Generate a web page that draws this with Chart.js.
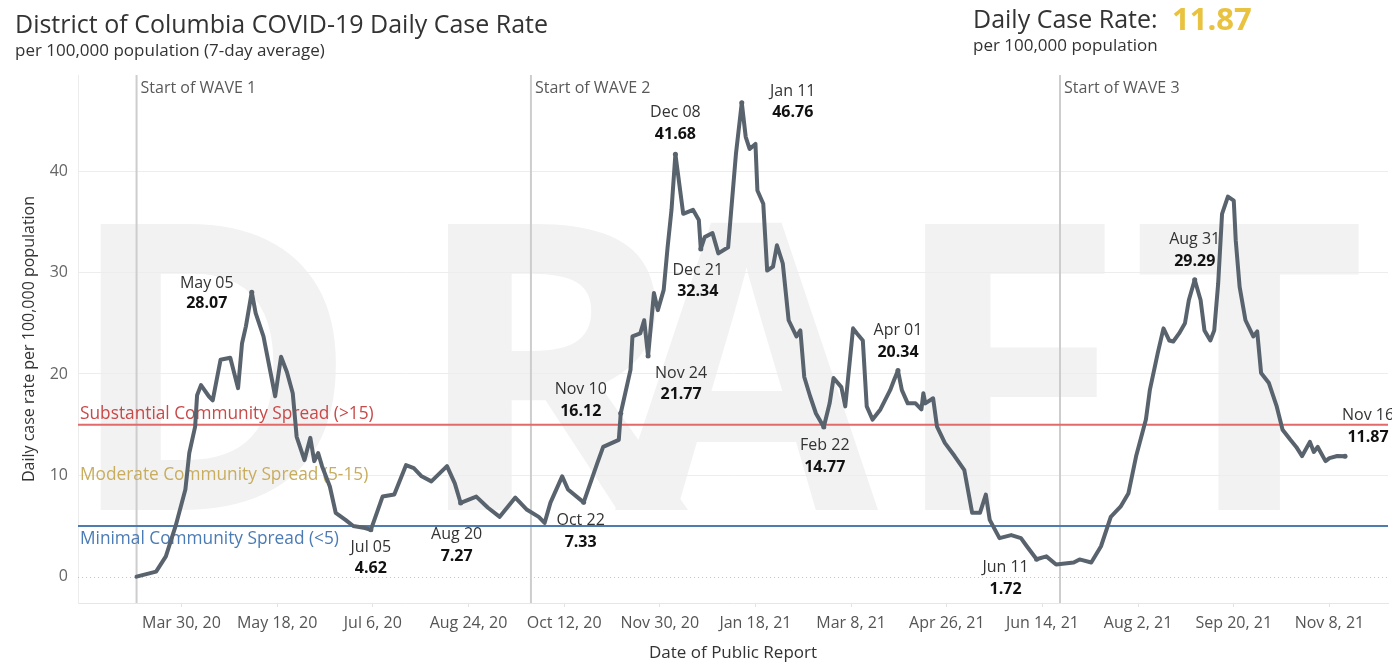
<!DOCTYPE html>
<html>
<head>
<meta charset="utf-8">
<title>District of Columbia COVID-19 Daily Case Rate</title>
<script src="https://cdn.jsdelivr.net/npm/chart.js@4.4.0/dist/chart.umd.min.js"></script>
<style>
  html, body { margin: 0; padding: 0; background: #fff; }
  #wrap { width: 1392px; height: 663px; position: relative; }
</style>
</head>
<body>
<div id="wrap"><canvas id="dcChart" width="1392" height="663"></canvas></div>
<script>
// 7-day average daily case rate per 100k
var reportDates = [
  '2020-03-07','2020-03-17','2020-03-22','2020-03-27','2020-04-01','2020-04-03','2020-04-06','2020-04-07',
  '2020-04-09','2020-04-13','2020-04-15','2020-04-19','2020-04-24','2020-04-28','2020-04-30','2020-05-02',
  '2020-05-05','2020-05-07','2020-05-11','2020-05-17','2020-05-20','2020-05-23','2020-05-26','2020-05-28',
  '2020-06-01','2020-06-04','2020-06-06','2020-06-08','2020-06-10','2020-06-14','2020-06-17','2020-06-22',
  '2020-06-26','2020-07-02','2020-07-05','2020-07-11','2020-07-17','2020-07-23','2020-07-27','2020-07-31',
  '2020-08-05','2020-08-13','2020-08-17','2020-08-20','2020-08-28','2020-09-03','2020-09-09','2020-09-17',
  '2020-09-23','2020-09-29','2020-10-02','2020-10-05','2020-10-11','2020-10-14','2020-10-22','2020-10-29',
  '2020-11-01','2020-11-09','2020-11-10','2020-11-15','2020-11-16','2020-11-20','2020-11-22','2020-11-24',
  '2020-11-27','2020-11-29','2020-12-02','2020-12-04','2020-12-06','2020-12-08','2020-12-12','2020-12-17',
  '2020-12-20','2020-12-21','2020-12-23','2020-12-27','2020-12-30','2021-01-04','2021-01-08','2021-01-11',
  '2021-01-13','2021-01-15','2021-01-18','2021-01-19','2021-01-22','2021-01-24','2021-01-27','2021-01-29',
  '2021-02-01','2021-02-04','2021-02-08','2021-02-10','2021-02-12','2021-02-15','2021-02-18','2021-02-22',
  '2021-02-25','2021-02-27','2021-03-03','2021-03-05','2021-03-09','2021-03-11','2021-03-14','2021-03-16',
  '2021-03-19','2021-03-23','2021-03-28','2021-03-30','2021-04-01','2021-04-03','2021-04-06','2021-04-10',
  '2021-04-13','2021-04-14','2021-04-15','2021-04-19','2021-04-21','2021-04-25','2021-04-30','2021-05-05',
  '2021-05-09','2021-05-13','2021-05-16','2021-05-18','2021-05-23','2021-05-29','2021-06-03','2021-06-06',
  '2021-06-11','2021-06-16','2021-06-21','2021-06-30','2021-07-03','2021-07-09','2021-07-14','2021-07-19',
  '2021-07-24','2021-07-28','2021-08-01','2021-08-06','2021-08-08','2021-08-12','2021-08-15','2021-08-18',
  '2021-08-20','2021-08-23','2021-08-26','2021-08-28','2021-08-31','2021-09-03','2021-09-05','2021-09-08',
  '2021-09-10','2021-09-12','2021-09-14','2021-09-17','2021-09-20','2021-09-21','2021-09-23','2021-09-26',
  '2021-09-30','2021-10-02','2021-10-04','2021-10-08','2021-10-12','2021-10-15','2021-10-19','2021-10-22',
  '2021-10-25','2021-10-29','2021-10-31','2021-11-02','2021-11-06','2021-11-08','2021-11-12','2021-11-16'
];
var caseRates = [
  0.0, 0.5, 2.0, 5.0, 8.6, 12.2, 14.8, 17.9,
  18.9, 17.8, 17.4, 21.4, 21.6, 18.6, 23.0, 24.7,
  28.07, 26.0, 23.7, 17.8, 21.7, 20.2, 18.1, 13.8,
  11.5, 13.7, 11.4, 12.2, 10.9, 8.9, 6.3, 5.6,
  5.0, 4.8, 4.62, 7.9, 8.1, 11.0, 10.7, 9.9,
  9.4, 10.9, 9.2, 7.27, 7.9, 6.8, 5.9, 7.8,
  6.6, 5.9, 5.3, 7.3, 9.9, 8.6, 7.33, 11.2,
  12.8, 13.5, 16.12, 20.4, 23.7, 24.0, 25.3, 21.77,
  28.0, 26.3, 28.3, 32.5, 36.2, 41.68, 35.8, 36.2,
  35.2, 32.34, 33.5, 33.9, 31.9, 32.5, 41.7, 46.76,
  43.4, 42.2, 42.7, 38.1, 36.8, 30.2, 30.6, 32.7,
  30.9, 25.3, 23.7, 24.3, 19.7, 17.8, 16.1, 14.77,
  17.1, 19.6, 18.7, 16.8, 24.5, 24.0, 23.3, 16.8,
  15.5, 16.5, 18.4, 19.4, 20.34, 18.4, 17.1, 17.1,
  16.5, 18.1, 17.1, 17.6, 14.8, 13.2, 11.9, 10.5,
  6.3, 6.3, 8.1, 5.6, 3.8, 4.1, 3.8, 3.0,
  1.72, 2.0, 1.2, 1.4, 1.7, 1.4, 3.0, 5.9,
  6.9, 8.2, 11.9, 15.5, 18.4, 22.0, 24.5, 23.3,
  23.2, 24.0, 25.0, 27.3, 29.29, 27.3, 24.3, 23.3,
  24.3, 28.9, 35.8, 37.5, 37.1, 33.2, 28.6, 25.3,
  23.7, 24.2, 20.1, 19.1, 16.8, 14.5, 13.5, 12.8,
  11.9, 13.3, 12.3, 12.8, 11.4, 11.7, 11.9, 11.87
];
var tickDates = ['2020-03-30','2020-05-18','2020-07-06','2020-08-24','2020-10-12','2020-11-30','2021-01-18',
                 '2021-03-08','2021-04-26','2021-06-14','2021-08-02','2021-09-20','2021-11-08'];
var yTicks = [0, 10, 20, 30, 40];

var waveDates = ['2020-03-07', '2020-09-25', '2021-06-23'];
var waveLabels = ['Start of WAVE 1', 'Start of WAVE 2', 'Start of WAVE 3'];

var spreadLevels = [15, 5];
var spreadLabels = ['Substantial Community Spread (>15)', 'Moderate Community Spread (5-15)', 'Minimal Community Spread (<5)'];

var calloutDates = ['2020-05-05','2020-07-05','2020-08-20','2020-10-22','2020-11-10','2020-11-24','2020-12-08',
                    '2020-12-21','2021-01-11','2021-02-22','2021-04-01','2021-06-11','2021-08-31','2021-11-16'];
var calloutNames = ['May 05','Jul 05','Aug 20','Oct 22','Nov 10','Nov 24','Dec 08',
                    'Dec 21','Jan 11','Feb 22','Apr 01','Jun 11','Aug 31','Nov 16'];
var calloutValues = [28.07, 4.62, 7.27, 7.33, 16.12, 21.77, 41.68, 32.34, 46.76, 14.77, 20.34, 1.72, 29.29, 11.87];

var latestRate = 11.87;

// where each callout text sits relative to its point: [dx, dy line1, dy line2]
var calloutOffsets = [[-45,-9,11],[0,18,39],[-4,31,53],[-3,18,40],[-40,-24,-2],[33,17,38],[0,-42,-20],
                      [-3,22,43],[51,-11,10],[1,18,40],[0,-40,-18],[-31,8,30],[0,-40,-18],[23,-41,-19]];

var FONT = '"Open Sans", "Noto Sans", sans-serif';
var DAY_MS = 86400000;
var baseMs = Date.UTC(2020, 2, 30);
var MONTHS = ['Jan','Feb','Mar','Apr','May','Jun','Jul','Aug','Sep','Oct','Nov','Dec'];

function dayOf(s) {
  var p = s.split('-');
  return Math.round((Date.UTC(+p[0], +p[1] - 1, +p[2]) - baseMs) / DAY_MS);
}
function tickLabel(v) {
  var d = new Date(baseMs + v * DAY_MS);
  return MONTHS[d.getUTCMonth()] + ' ' + d.getUTCDate() + ', ' + String(d.getUTCFullYear()).slice(2);
}

var points = reportDates.map(function (d, i) { return { x: dayOf(d), y: caseRates[i] }; });

var decor = {
  id: 'decor',
  beforeDraw: function (chart) {
    var ctx = chart.ctx;
    ctx.save();
    ctx.fillStyle = '#fff';
    ctx.fillRect(0, 0, chart.width, chart.height);

    // DRAFT watermark, each letter stretched to its box
    var letters = ['D', 'R', 'A', 'F', 'T'];
    var lefts = [96, 443, 615, 920, 1138];
    var widths = [242, 250, 268, 185, 222];
    ctx.fillStyle = '#f2f2f2';
    ctx.font = '700 400px ' + FONT;
    ctx.textBaseline = 'alphabetic';
    letters.forEach(function (ch, i) {
      var m = ctx.measureText(ch);
      var inkW = m.actualBoundingBoxLeft + m.actualBoundingBoxRight;
      ctx.save();
      ctx.translate(lefts[i], 510);
      ctx.scale(widths[i] / inkW, 288 / m.actualBoundingBoxAscent);
      ctx.fillText(ch, m.actualBoundingBoxLeft, 0);
      ctx.restore();
    });

    // header
    ctx.fillStyle = '#333';
    ctx.font = '400 25px ' + FONT;
    ctx.fillText('District of Columbia COVID-19 Daily Case Rate', 15, 33);
    ctx.font = '400 17px ' + FONT;
    ctx.fillText('per 100,000 population (7-day average)', 15, 56);
    ctx.font = '400 25px ' + FONT;
    ctx.fillText('Daily Case Rate:', 973, 28);
    ctx.font = '400 17px ' + FONT;
    ctx.fillText('per 100,000 population', 973, 51);
    ctx.fillStyle = '#e9c23f';
    ctx.font = '700 31px ' + FONT;
    ctx.fillText(latestRate.toFixed(2), 1172, 30);
    ctx.restore();
  },
  beforeDatasetsDraw: function (chart) {
    var ctx = chart.ctx, a = chart.chartArea;
    var xs = chart.scales.x, ys = chart.scales.y;
    ctx.save();

    // dotted zero line
    ctx.strokeStyle = '#c4c4c4';
    ctx.lineWidth = 1;
    ctx.setLineDash([1, 3]);
    ctx.beginPath();
    ctx.moveTo(a.left, Math.round(ys.getPixelForValue(0)) + 0.5);
    ctx.lineTo(a.right, Math.round(ys.getPixelForValue(0)) + 0.5);
    ctx.stroke();
    ctx.setLineDash([]);

    // wave starts
    ctx.font = '400 16px ' + FONT;
    ctx.textBaseline = 'middle';
    waveDates.forEach(function (d, i) {
      var x = xs.getPixelForValue(dayOf(d));
      ctx.strokeStyle = '#cdcdcd';
      ctx.lineWidth = 2;
      ctx.beginPath();
      ctx.moveTo(x, a.top);
      ctx.lineTo(x, a.bottom);
      ctx.stroke();
      ctx.fillStyle = '#595959';
      ctx.fillText(waveLabels[i], x + 4, a.top + 13);
    });

    // spread thresholds
    var yHi = ys.getPixelForValue(spreadLevels[0]);
    var yLo = ys.getPixelForValue(spreadLevels[1]);
    ctx.lineWidth = 2;
    ctx.strokeStyle = '#e26a6a';
    ctx.beginPath(); ctx.moveTo(a.left, yHi); ctx.lineTo(a.right, yHi); ctx.stroke();
    ctx.strokeStyle = '#4f7cae';
    ctx.beginPath(); ctx.moveTo(a.left, yLo); ctx.lineTo(a.right, yLo); ctx.stroke();

    ctx.font = '400 17.3px ' + FONT;
    ctx.fillStyle = '#c94848';
    ctx.fillText(spreadLabels[0], a.left + 2, yHi - 11);
    ctx.fillStyle = '#c8ad5e';
    ctx.fillText(spreadLabels[1], a.left + 2, (yHi + yLo) / 2);
    ctx.fillStyle = '#4b7bb5';
    ctx.fillText(spreadLabels[2], a.left + 2, yLo + 13);
    ctx.restore();
  },
  afterDatasetsDraw: function (chart) {
    var ctx = chart.ctx;
    var xs = chart.scales.x, ys = chart.scales.y;
    ctx.save();
    ctx.textAlign = 'center';
    ctx.textBaseline = 'middle';
    calloutDates.forEach(function (d, i) {
      var px = xs.getPixelForValue(dayOf(d));
      var py = ys.getPixelForValue(calloutValues[i]);
      var off = calloutOffsets[i];
      ctx.font = '400 16px ' + FONT;
      ctx.fillStyle = '#333';
      ctx.fillText(calloutNames[i], px + off[0], py + off[1]);
      ctx.font = '700 16px ' + FONT;
      ctx.fillStyle = '#111';
      ctx.fillText(calloutValues[i].toFixed(2), px + off[0], py + off[2]);
    });
    ctx.restore();
  }
};

Chart.defaults.font.family = FONT;

var ctx = document.getElementById('dcChart').getContext('2d');
var myChart = new Chart(ctx, {
  type: 'line',
  data: {
    datasets: [{
      label: 'Daily case rate',
      data: points,
      borderColor: '#59636d',
      backgroundColor: '#59636d',
      borderWidth: 4,
      borderJoinStyle: 'round',
      borderCapStyle: 'round',
      tension: 0,
      pointRadius: function (c) {
        var d = reportDates[c.dataIndex];
        return calloutDates.indexOf(d) >= 0 ? 2.5 : 0;
      },
      pointBorderWidth: 0
    }]
  },
  options: {
    responsive: false,
    animation: false,
    layout: { padding: { top: 75, left: 0, right: 0, bottom: 0 } },
    plugins: {
      legend: { display: false },
      tooltip: { enabled: false }
    },
    scales: {
      x: {
        type: 'linear',
        min: -53,
        max: 618,
        afterBuildTicks: function (s) {
          s.ticks = tickDates.map(function (d) { return { value: dayOf(d) }; });
        },
        afterFit: function (s) { s.height = 60; },
        ticks: {
          autoSkip: false,
          maxRotation: 0,
          padding: 7,
          color: '#555',
          font: { size: 16 },
          callback: function (v) { return tickLabel(v); }
        },
        grid: { drawOnChartArea: false, tickLength: 4, color: '#e2e2e2' },
        border: { color: '#e6e6e6' },
        title: {
          display: true,
          text: 'Date of Public Report',
          color: '#333',
          font: { size: 17 },
          padding: { top: 0, bottom: 0 }
        }
      },
      y: {
        min: -2.6,
        max: 49.5,
        afterBuildTicks: function (s) {
          s.ticks = yTicks.map(function (v) { return { value: v }; });
        },
        afterFit: function (s) { s.width = 78; },
        ticks: { padding: 10, color: '#666', font: { size: 16 } },
        grid: {
          drawTicks: false,
          color: function (c) { return c.tick && c.tick.value === 0 ? 'rgba(0,0,0,0)' : '#ededed'; }
        },
        border: { color: '#ececec' },
        title: {
          display: true,
          text: 'Daily case rate per 100,000 population',
          color: '#333',
          font: { size: 16 },
          padding: { top: 20, bottom: 0 }
        }
      }
    }
  },
  plugins: [decor]
});
</script>
</body>
</html>
